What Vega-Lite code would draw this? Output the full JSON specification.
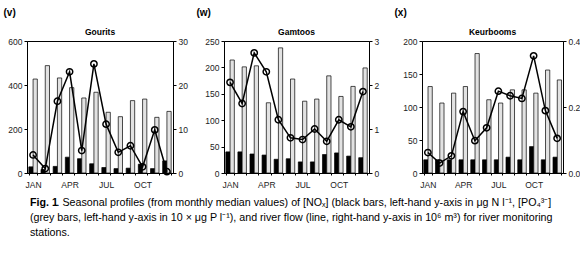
{
  "$schema": "https://vega.github.io/schema/vega-lite/v6.json",
  "background": "white",
  "padding": {"left": 3, "top": 8, "right": 2, "bottom": 0},
  "config": {
    "font": "Liberation Sans",
    "view": {"stroke": "black", "strokeWidth": 1},
    "axis": {"labelFont": "Liberation Sans", "labelFontSize": 8.5, "labelColor": "#222", "domainColor": "black", "domainWidth": 1, "tickColor": "black", "tickWidth": 1, "tickSize": 3, "labelPadding": 2, "grid": false, "title": null},
    "title": {"font": "Liberation Sans", "color": "black"}
  },
  "data": {"values": [
    {"river": "Gourits", "month": "JAN", "NOx": 28, "PO4": 427, "flow": 4.1},
    {"river": "Gourits", "month": "FEB", "NOx": 16, "PO4": 488, "flow": 1.0},
    {"river": "Gourits", "month": "MAR", "NOx": 30, "PO4": 432, "flow": 16.3},
    {"river": "Gourits", "month": "APR", "NOx": 72, "PO4": 388, "flow": 23.0},
    {"river": "Gourits", "month": "MAY", "NOx": 65, "PO4": 341, "flow": 5.1},
    {"river": "Gourits", "month": "JUN", "NOx": 42, "PO4": 367, "flow": 24.8},
    {"river": "Gourits", "month": "JUL", "NOx": 25, "PO4": 276, "flow": 11.1},
    {"river": "Gourits", "month": "AUG", "NOx": 20, "PO4": 256, "flow": 4.7},
    {"river": "Gourits", "month": "SEP", "NOx": 22, "PO4": 329, "flow": 6.2},
    {"river": "Gourits", "month": "OCT", "NOx": 40, "PO4": 336, "flow": 1.4},
    {"river": "Gourits", "month": "NOV", "NOx": 20, "PO4": 253, "flow": 9.8},
    {"river": "Gourits", "month": "DEC", "NOx": 55, "PO4": 280, "flow": 0.3},
    {"river": "Gamtoos", "month": "JAN", "NOx": 40, "PO4": 214, "flow": 2.06},
    {"river": "Gamtoos", "month": "FEB", "NOx": 40, "PO4": 201, "flow": 1.58},
    {"river": "Gamtoos", "month": "MAR", "NOx": 36, "PO4": 203, "flow": 2.73},
    {"river": "Gamtoos", "month": "APR", "NOx": 34, "PO4": 133, "flow": 2.30},
    {"river": "Gamtoos", "month": "MAY", "NOx": 26, "PO4": 237, "flow": 1.21},
    {"river": "Gamtoos", "month": "JUN", "NOx": 27, "PO4": 178, "flow": 0.80},
    {"river": "Gamtoos", "month": "JUL", "NOx": 21, "PO4": 136, "flow": 0.76},
    {"river": "Gamtoos", "month": "AUG", "NOx": 21, "PO4": 140, "flow": 1.0},
    {"river": "Gamtoos", "month": "SEP", "NOx": 35, "PO4": 184, "flow": 0.72},
    {"river": "Gamtoos", "month": "OCT", "NOx": 38, "PO4": 145, "flow": 1.21},
    {"river": "Gamtoos", "month": "NOV", "NOx": 32, "PO4": 164, "flow": 1.05},
    {"river": "Gamtoos", "month": "DEC", "NOx": 29, "PO4": 199, "flow": 1.85},
    {"river": "Keurbooms", "month": "JAN", "NOx": 20, "PO4": 131, "flow": 0.062},
    {"river": "Keurbooms", "month": "FEB", "NOx": 20, "PO4": 106, "flow": 0.03},
    {"river": "Keurbooms", "month": "MAR", "NOx": 20, "PO4": 121, "flow": 0.052},
    {"river": "Keurbooms", "month": "APR", "NOx": 20, "PO4": 131, "flow": 0.186},
    {"river": "Keurbooms", "month": "MAY", "NOx": 20, "PO4": 181, "flow": 0.098},
    {"river": "Keurbooms", "month": "JUN", "NOx": 20, "PO4": 111, "flow": 0.137},
    {"river": "Keurbooms", "month": "JUL", "NOx": 20, "PO4": 106, "flow": 0.248},
    {"river": "Keurbooms", "month": "AUG", "NOx": 24, "PO4": 126, "flow": 0.234},
    {"river": "Keurbooms", "month": "SEP", "NOx": 20, "PO4": 126, "flow": 0.226},
    {"river": "Keurbooms", "month": "OCT", "NOx": 40, "PO4": 121, "flow": 0.355},
    {"river": "Keurbooms", "month": "NOV", "NOx": 20, "PO4": 156, "flow": 0.189},
    {"river": "Keurbooms", "month": "DEC", "NOx": 24, "PO4": 141, "flow": 0.105}
  ]},
  "spacing": 6,
  "vconcat": [
    {
      "spacing": 8,
      "hconcat": [
        {
          "title": {"text": "(v)", "anchor": "start", "frame": "bounds", "fontSize": 10, "fontWeight": "bold", "offset": 9},
          "vconcat": [{
            "width": 146, "height": 132,
            "title": {"text": "Gourits", "fontSize": 8.5, "fontWeight": "bold", "offset": 1},
            "transform": [{"filter": "datum.river === 'Gourits'"}],
            "layer": [
              {
                "transform": [{"fold": ["NOx", "PO4"], "as": ["series", "value"]}],
                "mark": {"type": "bar", "stroke": "black", "strokeWidth": 0.7},
                "encoding": {
                  "x": {"field": "month", "type": "nominal", "sort": ["JAN","FEB","MAR","APR","MAY","JUN","JUL","AUG","SEP","OCT","NOV","DEC"], "scale": {"paddingInner": 0.3, "paddingOuter": 0.15}, "axis": {"labelAngle": 0, "labelFontSize": 8.5, "tickBand": "extent", "tickSize": 2, "labelPadding": 5, "labelExpr": "indexof(['JAN','APR','JUL','OCT'], datum.value) >= 0 ? datum.value : ''"}},
                  "xOffset": {"field": "series", "type": "nominal", "sort": ["NOx", "PO4"], "scale": {"paddingInner": 0, "paddingOuter": 0}},
                  "y": {"field": "value", "type": "quantitative", "scale": {"domain": [0, 600]}, "axis": {"values": [0, 200, 400, 600], "minExtent": 23, "maxExtent": 23}},
                  "fill": {"field": "series", "type": "nominal", "scale": {"domain": ["NOx", "PO4"], "range": ["black", "#e2e2e2"]}, "legend": null}
                }
              },
              {
                "mark": {"type": "line", "color": "black", "strokeWidth": 1.5, "point": {"filled": false, "size": 40, "stroke": "black", "strokeWidth": 1.5}},
                "encoding": {
                  "x": {"field": "month", "type": "nominal", "sort": ["JAN","FEB","MAR","APR","MAY","JUN","JUL","AUG","SEP","OCT","NOV","DEC"]},
                  "y": {"field": "flow", "type": "quantitative", "scale": {"domain": [0, 30]}, "axis": {"orient": "right", "values": [0, 10, 20, 30], "minExtent": 13, "maxExtent": 13}}
                }
              }
            ],
            "resolve": {"scale": {"y": "independent"}}
          }]
        },
        {
          "title": {"text": "(w)", "anchor": "start", "frame": "bounds", "fontSize": 10, "fontWeight": "bold", "offset": 9},
          "vconcat": [{
            "width": 145, "height": 132,
            "title": {"text": "Gamtoos", "fontSize": 8.5, "fontWeight": "bold", "offset": 1},
            "transform": [{"filter": "datum.river === 'Gamtoos'"}],
            "layer": [
              {
                "transform": [{"fold": ["NOx", "PO4"], "as": ["series", "value"]}],
                "mark": {"type": "bar", "stroke": "black", "strokeWidth": 0.7},
                "encoding": {
                  "x": {"field": "month", "type": "nominal", "sort": ["JAN","FEB","MAR","APR","MAY","JUN","JUL","AUG","SEP","OCT","NOV","DEC"], "scale": {"paddingInner": 0.3, "paddingOuter": 0.15}, "axis": {"labelAngle": 0, "labelFontSize": 8.5, "tickBand": "extent", "tickSize": 2, "labelPadding": 5, "labelExpr": "indexof(['JAN','APR','JUL','OCT'], datum.value) >= 0 ? datum.value : ''"}},
                  "xOffset": {"field": "series", "type": "nominal", "sort": ["NOx", "PO4"], "scale": {"paddingInner": 0, "paddingOuter": 0}},
                  "y": {"field": "value", "type": "quantitative", "scale": {"domain": [0, 250]}, "axis": {"values": [0, 50, 100, 150, 200, 250], "minExtent": 27, "maxExtent": 27}},
                  "fill": {"field": "series", "type": "nominal", "scale": {"domain": ["NOx", "PO4"], "range": ["black", "#e2e2e2"]}, "legend": null}
                }
              },
              {
                "mark": {"type": "line", "color": "black", "strokeWidth": 1.5, "point": {"filled": false, "size": 40, "stroke": "black", "strokeWidth": 1.5}},
                "encoding": {
                  "x": {"field": "month", "type": "nominal", "sort": ["JAN","FEB","MAR","APR","MAY","JUN","JUL","AUG","SEP","OCT","NOV","DEC"]},
                  "y": {"field": "flow", "type": "quantitative", "scale": {"domain": [0, 3]}, "axis": {"orient": "right", "values": [0, 1, 2, 3], "minExtent": 16, "maxExtent": 16}}
                }
              }
            ],
            "resolve": {"scale": {"y": "independent"}}
          }]
        },
        {
          "title": {"text": "(x)", "anchor": "start", "frame": "bounds", "fontSize": 10, "fontWeight": "bold", "offset": 9},
          "vconcat": [{
            "width": 141, "height": 132,
            "title": {"text": "Keurbooms", "fontSize": 8.5, "fontWeight": "bold", "offset": 1},
            "transform": [{"filter": "datum.river === 'Keurbooms'"}],
            "layer": [
              {
                "transform": [{"fold": ["NOx", "PO4"], "as": ["series", "value"]}],
                "mark": {"type": "bar", "stroke": "black", "strokeWidth": 0.7},
                "encoding": {
                  "x": {"field": "month", "type": "nominal", "sort": ["JAN","FEB","MAR","APR","MAY","JUN","JUL","AUG","SEP","OCT","NOV","DEC"], "scale": {"paddingInner": 0.3, "paddingOuter": 0.15}, "axis": {"labelAngle": 0, "labelFontSize": 8.5, "tickBand": "extent", "tickSize": 2, "labelPadding": 5, "labelExpr": "indexof(['JAN','APR','JUL','OCT'], datum.value) >= 0 ? datum.value : ''"}},
                  "xOffset": {"field": "series", "type": "nominal", "sort": ["NOx", "PO4"], "scale": {"paddingInner": 0, "paddingOuter": 0}},
                  "y": {"field": "value", "type": "quantitative", "scale": {"domain": [0, 200]}, "axis": {"values": [0, 50, 100, 150, 200], "minExtent": 27, "maxExtent": 27}},
                  "fill": {"field": "series", "type": "nominal", "scale": {"domain": ["NOx", "PO4"], "range": ["black", "#e2e2e2"]}, "legend": null}
                }
              },
              {
                "mark": {"type": "line", "color": "black", "strokeWidth": 1.5, "point": {"filled": false, "size": 40, "stroke": "black", "strokeWidth": 1.5}},
                "encoding": {
                  "x": {"field": "month", "type": "nominal", "sort": ["JAN","FEB","MAR","APR","MAY","JUN","JUL","AUG","SEP","OCT","NOV","DEC"]},
                  "y": {"field": "flow", "type": "quantitative", "scale": {"domain": [0, 0.4]}, "axis": {"orient": "right", "values": [0, 0.2, 0.4], "format": ".1f", "minExtent": 18, "maxExtent": 18}}
                }
              }
            ],
            "resolve": {"scale": {"y": "independent"}}
          }]
        }
      ]
    },
    {
      "width": 570, "height": 46,
      "view": {"stroke": null},
      "data": {"values": [
        {"line": 1, "part": "bold", "text": "Fig. 1"},
        {"line": 1, "part": "first", "text": ". Seasonal profiles (from monthly median values) of [NOₓ] (black bars, left-hand y-axis in μg N l⁻¹, [PO₄³⁻]"},
        {"line": 2, "part": "rest", "text": "(grey bars, left-hand y-axis in 10 × μg P l⁻¹), and river flow (line, right-hand y-axis in 10⁶ m³) for river monitoring"},
        {"line": 3, "part": "rest", "text": "stations."}
      ]},
      "encoding": {
        "y": {"field": "line", "type": "ordinal", "axis": null, "scale": {"paddingInner": 0, "paddingOuter": 0}},
        "x": {"value": 3},
        "text": {"field": "text"}
      },
      "layer": [
        {"transform": [{"filter": "datum.part === 'bold'"}], "mark": {"type": "text", "align": "left", "baseline": "middle", "fontSize": 10.7, "fontWeight": "bold", "font": "Liberation Sans", "color": "black"}},
        {"transform": [{"filter": "datum.part === 'first'"}], "mark": {"type": "text", "align": "left", "baseline": "middle", "fontSize": 10.7, "font": "Liberation Sans", "color": "black", "dx": 26.5}},
        {"transform": [{"filter": "datum.part === 'rest'"}], "mark": {"type": "text", "align": "left", "baseline": "middle", "fontSize": 10.7, "font": "Liberation Sans", "color": "black"}}
      ]
    }
  ]
}
